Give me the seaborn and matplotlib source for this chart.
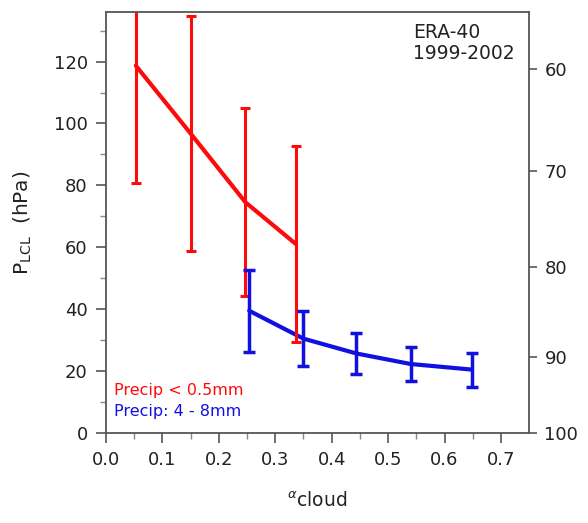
import numpy as np
import pandas as pd
import matplotlib
matplotlib.use("Agg")
import matplotlib.pyplot as plt
import seaborn as sns

# ---- data ----
red_x = [0.053, 0.150, 0.247, 0.337]
red_y = [118.7, 96.8, 74.6, 61.0]
red_err = [38.0, 38.0, 30.3, 31.6]

blue_x = [0.254, 0.350, 0.444, 0.540, 0.648]
blue_y = [39.5, 30.5, 25.7, 22.3, 20.5]
blue_err = [13.3, 9.0, 6.7, 5.4, 5.5]

x_ticks = [0.0, 0.1, 0.2, 0.3, 0.4, 0.5, 0.6, 0.7]
y_ticks = [0, 20, 40, 60, 80, 100, 120]
right_tick_labels = ["60", "70", "80", "90", "100"]
right_tick_pos = [117.7, 84.8, 53.5, 24.5, 0.0]

red_label = "Precip < 0.5mm"
blue_label = "Precip: 4 - 8mm"
annot = "ERA-40\n1999-2002"

sns.set_style("ticks")
plt.rcParams['font.family'] = ['DejaVu Sans']
plt.rcParams['mathtext.fontset'] = 'dejavusans'

fig = plt.figure(figsize=(5.88, 5.23), dpi=100)
ax = fig.add_axes([0.180, 0.172, 0.720, 0.805])

red_c = "#ff0a0a"
blue_c = "#1010e0"

df_r = pd.DataFrame({"x": red_x, "y": red_y})
df_b = pd.DataFrame({"x": blue_x, "y": blue_y})
sns.lineplot(data=df_r, x="x", y="y", ax=ax, color=red_c, lw=3, sort=False)
sns.lineplot(data=df_b, x="x", y="y", ax=ax, color=blue_c, lw=3, sort=False)
ax.errorbar(red_x, red_y, yerr=red_err, fmt='none', ecolor=red_c, elinewidth=2.2,
            capsize=3.8, capthick=2.2)
ax.errorbar(blue_x, blue_y, yerr=blue_err, fmt='none', ecolor=blue_c, elinewidth=2.5,
            capsize=4.5, capthick=2.5)

ax.set_xlim(0, 0.75)
ax.set_ylim(0, 136)
ax.set_xticks(x_ticks)
ax.set_xticklabels([f"{v:.1f}" for v in x_ticks])
ax.set_yticks(y_ticks)
ax.set_xticks(np.arange(0.05, 0.75, 0.1), minor=True)
ax.set_yticks(np.arange(10, 136, 20), minor=True)
ax.tick_params(axis='both', which='major', labelsize=13, length=7, width=1.2,
               direction='out', color='#555555', pad=6, labelcolor='#222222')
ax.tick_params(axis='both', which='minor', length=4, width=1.0, color='#888888',
               direction='out')

for s in ax.spines.values():
    s.set_color('#555555')
    s.set_linewidth(1.3)

ax.set_ylabel(r"P$_{\mathrm{LCL}}$  (hPa)", fontsize=14.5, labelpad=14, color='#222222')
ax.set_xlabel(r"$^{\alpha}$cloud", fontsize=13.5, labelpad=16, color='#222222')

ax2 = ax.twinx()
ax2.set_ylim(ax.get_ylim())
ax2.set_yticks(right_tick_pos)
ax2.set_yticklabels(right_tick_labels)
ax2.tick_params(axis='y', labelsize=13, length=6, width=1.2, color='#555555', pad=5,
                labelcolor='#222222')
for s in ax2.spines.values():
    s.set_visible(False)

ax.text(0.725, 0.975, annot, transform=ax.transAxes, ha='left', va='top',
        fontsize=13.5, color='#222222', linespacing=1.15, multialignment='left')
ax.text(0.02, 0.102, red_label, transform=ax.transAxes, ha='left', va='center',
        fontsize=11.5, color=red_c)
ax.text(0.02, 0.05, blue_label, transform=ax.transAxes, ha='left', va='center',
        fontsize=11.5, color=blue_c)

fig.savefig("out.png", dpi=100)
